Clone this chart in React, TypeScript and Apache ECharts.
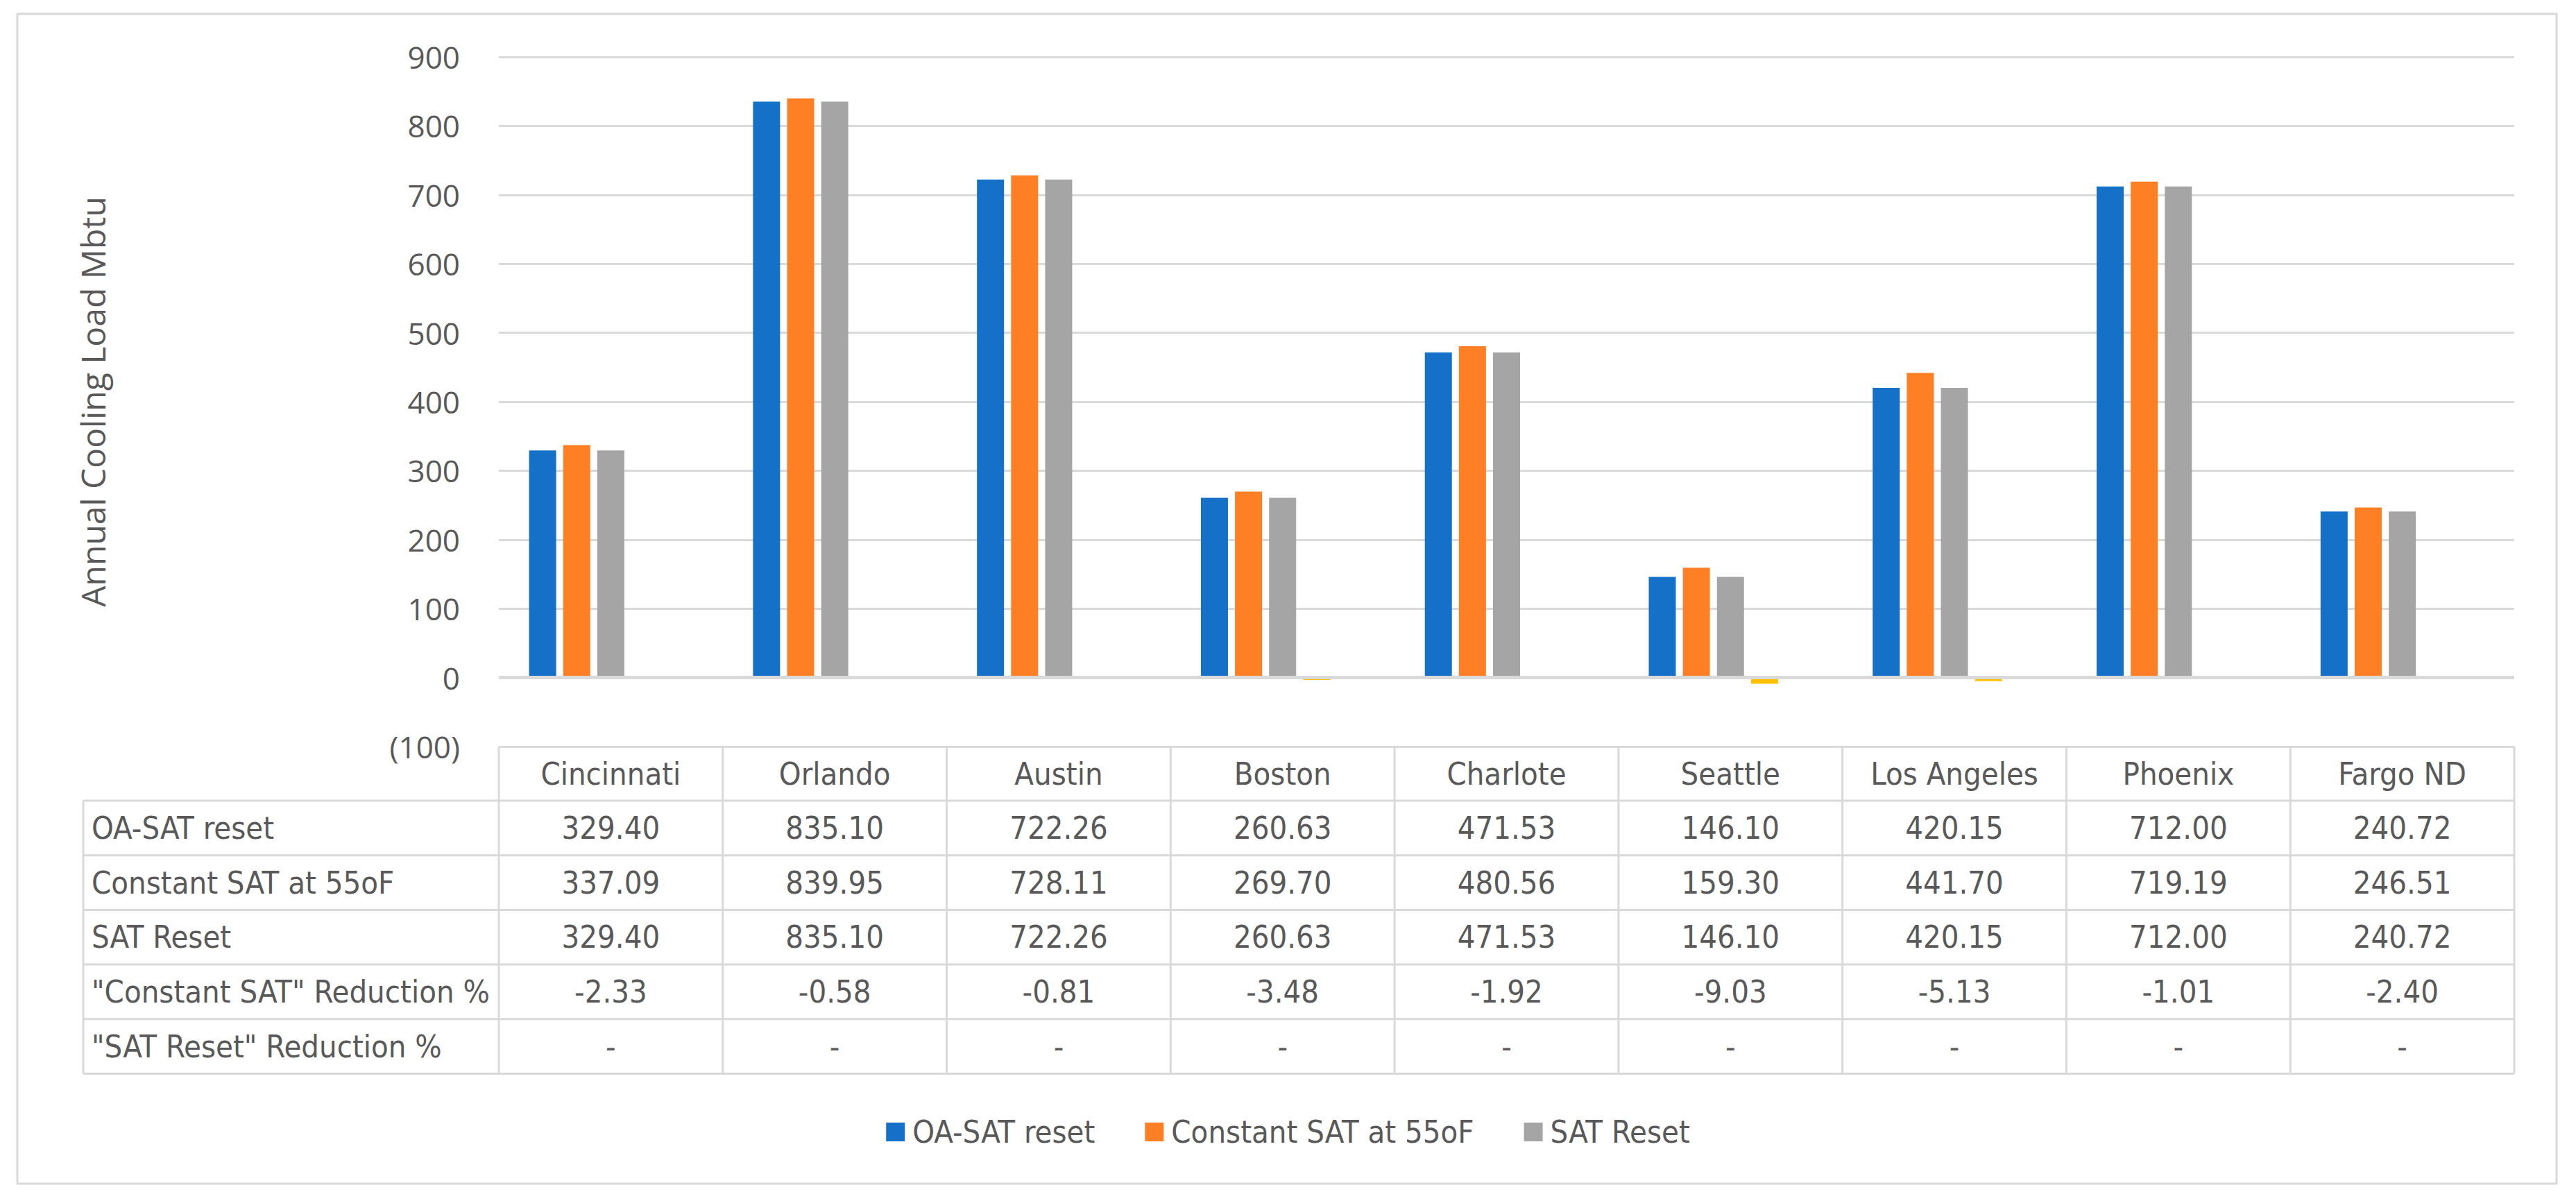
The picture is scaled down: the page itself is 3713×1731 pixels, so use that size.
import React, { useEffect, useRef } from 'react';
import * as echarts from 'echarts';

const cities = ['Cincinnati', 'Orlando', 'Austin', 'Boston', 'Charlote', 'Seattle', 'Los Angeles', 'Phoenix', 'Fargo ND'];
const oaSatReset = [329.4, 835.1, 722.26, 260.63, 471.53, 146.1, 420.15, 712.0, 240.72];
const constantSat55 = [337.09, 839.95, 728.11, 269.7, 480.56, 159.3, 441.7, 719.19, 246.51];
const satReset = [329.4, 835.1, 722.26, 260.63, 471.53, 146.1, 420.15, 712.0, 240.72];
const constantSatReductionPct = [-2.33, -0.58, -0.81, -3.48, -1.92, -9.03, -5.13, -1.01, -2.4];
const satResetReductionPct = [0, 0, 0, 0, 0, 0, 0, 0, 0];
const seriesNames = ['OA-SAT reset', 'Constant SAT at 55oF', 'SAT Reset', '"Constant SAT" Reduction %', '"SAT Reset" Reduction %'];
const seriesValues = [oaSatReset, constantSat55, satReset, constantSatReductionPct, satResetReductionPct];
const seriesColors = ['#1570C8', '#FE7F24', '#A5A5A5', '#FFC000', '#5B9BD5'];
const yMin = -100;
const yMax = 900;
const yStep = 100;

const W = 3713;
const H = 1731;
const gridLeft = 719;
const gridRightX = 3624;
const gridTop = 82;
const gridBottomY = 1076;
const tableLeft = 120;
const headerBottom = 1154;
const rowH = 78.7;
const lineColor = '#D9D9D9';
const textColor = '#595959';
const tableFont = '"Liberation Sans Narrow", "DejaVu Sans Condensed", "Noto Sans", sans-serif';
const axisFont = '"Open Sans", "Noto Sans", sans-serif';
const tableFontSize = 45;

function fmt(v: number): string {
  if (v === 0) return '-';
  return v.toFixed(2);
}

export default function App() {
  const ref = useRef<HTMLDivElement>(null);
  useEffect(() => {
    if (!ref.current) return;
    const chart = echarts.init(ref.current, undefined, { renderer: 'svg' });
    const colW = (gridRightX - gridLeft) / cities.length;
    const graphics: any[] = [];
    graphics.push({
      type: 'rect',
      shape: { x: 25, y: 20, width: 3660, height: 1686 },
      style: { fill: 'none', stroke: lineColor, lineWidth: 3 },
      silent: true,
    });
    for (let r = 0; r <= seriesNames.length; r++) {
      const y = headerBottom + r * rowH;
      graphics.push({
        type: 'line',
        shape: { x1: tableLeft, y1: y, x2: gridRightX, y2: y },
        style: { stroke: lineColor, lineWidth: 3 },
        silent: true,
      });
    }
    const tableBottom = headerBottom + seriesNames.length * rowH;
    for (let c = 0; c <= cities.length; c++) {
      const x = gridLeft + c * colW;
      graphics.push({
        type: 'line',
        shape: { x1: x, y1: gridBottomY, x2: x, y2: tableBottom },
        style: { stroke: lineColor, lineWidth: 3 },
        silent: true,
      });
    }
    graphics.push({
      type: 'line',
      shape: { x1: tableLeft, y1: headerBottom, x2: tableLeft, y2: tableBottom },
      style: { stroke: lineColor, lineWidth: 3 },
      silent: true,
    });
    seriesNames.forEach((name, r) => {
      const cy = headerBottom + (r + 0.5) * rowH;
      graphics.push({
        type: 'text',
        x: 132,
        y: cy,
        style: {
          text: name,
          fill: textColor,
          fontSize: tableFontSize,
          fontFamily: tableFont,
          align: 'left',
          verticalAlign: 'middle',
        },
        silent: true,
      });
      seriesValues[r].forEach((v, c) => {
        graphics.push({
          type: 'text',
          x: gridLeft + (c + 0.5) * colW,
          y: cy,
          style: {
            text: fmt(v),
            fill: textColor,
            fontSize: tableFontSize,
            fontFamily: tableFont,
            align: 'center',
            verticalAlign: 'middle',
          },
          silent: true,
        });
      });
    });

    const option: any = {
      animation: false,
      backgroundColor: '#FFFFFF',
      grid: {
        left: gridLeft,
        right: W - gridRightX,
        top: gridTop,
        bottom: H - gridBottomY,
        containLabel: false,
      },
      legend: {
        data: seriesNames.slice(0, 3),
        left: 'center',
        top: 1604,
        icon: 'rect',
        itemWidth: 27,
        itemHeight: 27,
        itemGap: 72,
        textStyle: {
          color: textColor,
          fontSize: tableFontSize,
          fontFamily: tableFont,
          padding: [0, 0, 0, 6],
        },
      },
      xAxis: {
        type: 'category',
        data: cities,
        axisLine: { show: false },
        axisTick: { show: false },
        axisLabel: {
          margin: 39,
          verticalAlign: 'middle',
          color: textColor,
          fontSize: tableFontSize,
          fontFamily: tableFont,
          interval: 0,
        },
        splitLine: { show: false },
      },
      yAxis: {
        type: 'value',
        min: yMin,
        max: yMax,
        interval: yStep,
        name: 'Annual Cooling Load Mbtu',
        nameLocation: 'middle',
        nameRotate: 90,
        nameGap: 562,
        nameTextStyle: { color: textColor, fontSize: 48, fontFamily: axisFont },
        axisLine: { show: false },
        axisTick: { show: false },
        axisLabel: {
          margin: 56,
          color: textColor,
          fontSize: 44,
          fontFamily: axisFont,
          formatter: (v: number) => (v < 0 ? '(' + Math.abs(v) + ')' : String(v)),
        },
        splitLine: { lineStyle: { color: lineColor, width: 3 } },
      },
      series: seriesNames.map((name, i) => {
        const s: any = {
          type: 'bar',
          name,
          data: seriesValues[i],
          barWidth: 39,
          barGap: '26%',
          itemStyle: { color: seriesColors[i] },
        };
        if (i === seriesNames.length - 1) {
          s.z = 3;
          s.markLine = {
            silent: true,
            symbol: 'none',
            label: { show: false },
            lineStyle: { color: lineColor, width: 5, type: 'solid' },
            data: [{ yAxis: 0 }],
          };
        }
        return s;
      }),
      graphic: graphics,
    };
    chart.setOption(option);
    return () => chart.dispose();
  }, []);
  return <div ref={ref} style={{ position: 'fixed', left: 0, top: 0, width: W, height: H, background: '#fff' }} />;
}
